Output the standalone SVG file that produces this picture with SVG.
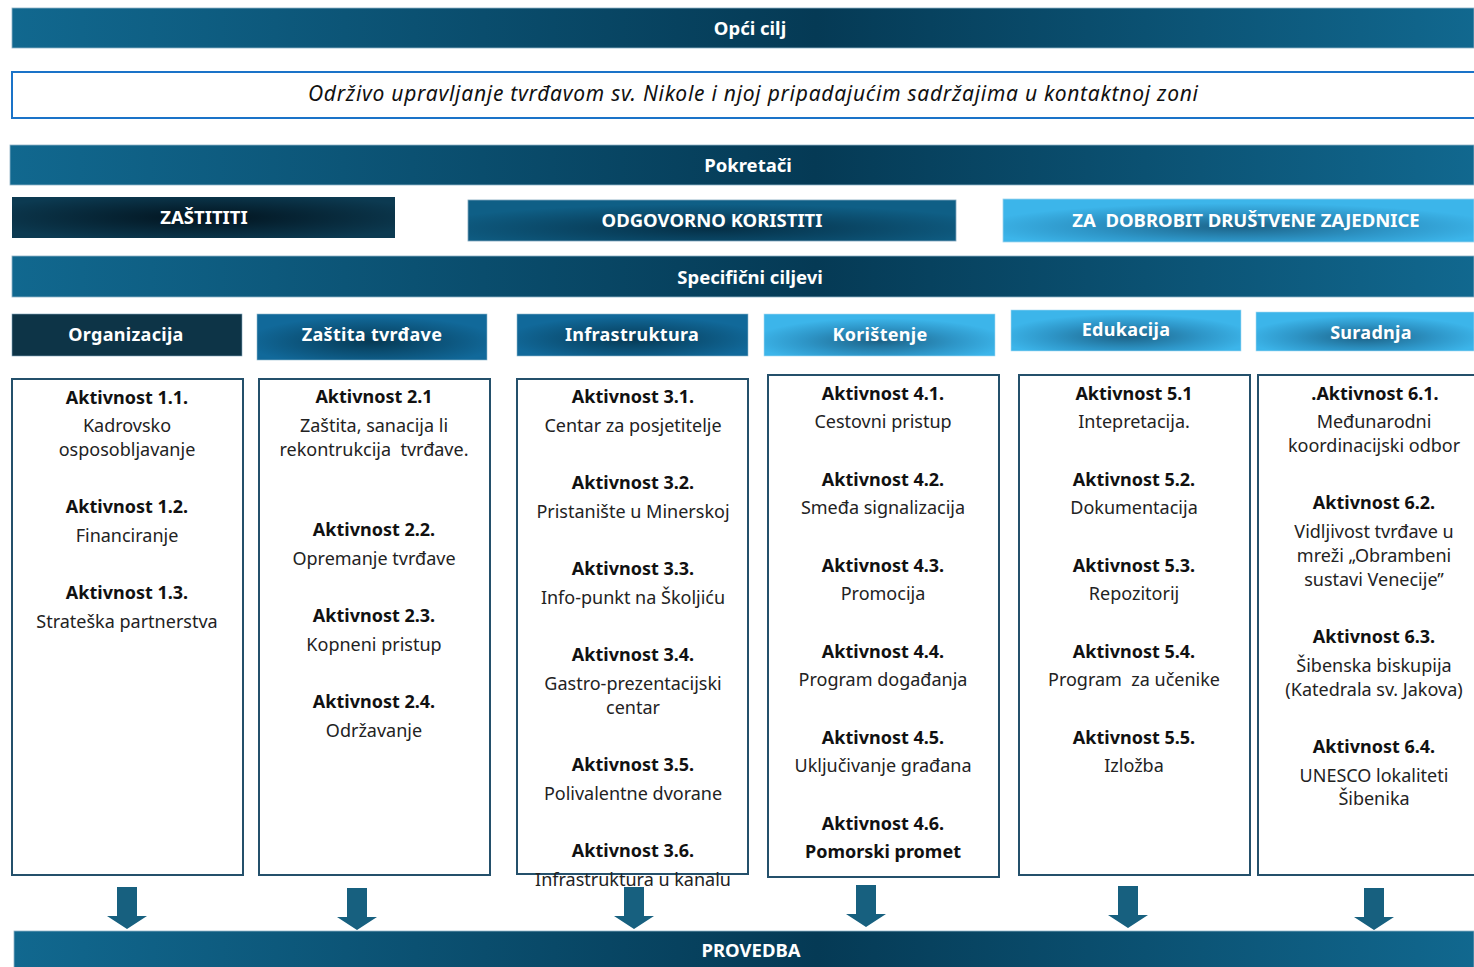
<svg xmlns="http://www.w3.org/2000/svg" width="1474" height="967" viewBox="0 0 1474 967">
<defs>
<linearGradient id="bar" x1="0" y1="0" x2="1" y2="0">
<stop offset="0" stop-color="#11688f"/>
<stop offset="0.55" stop-color="#053a55"/>
<stop offset="1" stop-color="#11688f"/>
</linearGradient>
<radialGradient id="darkBox" cx="0.5" cy="0.5" r="0.6">
<stop offset="0" stop-color="#02141f"/>
<stop offset="1" stop-color="#0c3a51"/>
</radialGradient>
<radialGradient id="midBox" cx="0.5" cy="0.7" r="0.6">
<stop offset="0" stop-color="#052f46"/>
<stop offset="1" stop-color="#0f5f86"/>
</radialGradient>
<radialGradient id="blueBox" cx="0.5" cy="0.6" r="0.55">
<stop offset="0" stop-color="#063a55"/>
<stop offset="1" stop-color="#11699a"/>
</radialGradient>
<radialGradient id="lightBox" cx="0.5" cy="0.65" r="0.55">
<stop offset="0" stop-color="#1c6388"/>
<stop offset="0.6" stop-color="#2e96c8"/>
<stop offset="1" stop-color="#3cb5ea"/>
</radialGradient>
<polygon id="arrow" points="-10,0 10,0 10,29 20,29 0,42 -20,29 -10,29" fill="#17607f"/>
</defs>
<style>
.bar{fill:url(#bar);stroke:#8fb3c7;stroke-width:0.8}
.bt{font-family:"Noto Sans","Liberation Sans",sans-serif;font-weight:bold;fill:#ffffff;font-size:18.5px;text-anchor:middle;dominant-baseline:central}
.ht{font-family:"Noto Sans","Liberation Sans",sans-serif;font-weight:bold;fill:#ffffff;font-size:18px;text-anchor:middle;dominant-baseline:central;letter-spacing:0.3px}
.box{fill:#ffffff;stroke:#24506b;stroke-width:2}
.a{font-family:"Noto Sans","Liberation Sans",sans-serif;font-weight:bold;fill:#111111;font-size:18px;text-anchor:middle}
.d{font-family:"Noto Sans","Liberation Sans",sans-serif;fill:#222222;font-size:18px;text-anchor:middle}
</style>

<g id="opci-cilj">
<rect class="bar" x="12" y="8" width="1462" height="40"/>
<text class="bt" x="750" y="27">Opći cilj</text>
</g>
<g id="goal">
<rect x="12" y="72" width="1470" height="46" fill="#ffffff" stroke="#1a73c8" stroke-width="2"/>
<text x="753" y="101" font-family="Noto Sans, Liberation Sans, sans-serif" font-style="italic" font-size="21" fill="#111111" text-anchor="middle" textLength="890" lengthAdjust="spacing">Održivo upravljanje tvrđavom sv. Nikole i njoj pripadajućim sadržajima u kontaktnoj zoni</text>
</g>
<g id="pokretaci">
<rect class="bar" x="10" y="145" width="1464" height="40"/>
<text class="bt" x="748" y="164">Pokretači</text>
</g>
<g id="zastititi">
<rect x="12" y="197" width="383" height="41" fill="url(#darkBox)"/>
<text class="bt" x="204" y="216">ZAŠTITITI</text>
</g>
<g id="odgovorno">
<rect x="468" y="200" width="488" height="41" fill="url(#midBox)" stroke="#7fa6bd" stroke-width="0.8"/>
<text class="bt" x="712" y="219">ODGOVORNO KORISTITI</text>
</g>
<g id="dobrobit">
<rect x="1003" y="199" width="471" height="43" fill="url(#lightBox)" stroke="#9fd4ee" stroke-width="0.8"/>
<text class="bt" x="1246" y="219" xml:space="preserve">ZA  DOBROBIT DRUŠTVENE ZAJEDNICE</text>
</g>
<g id="specificni">
<rect class="bar" x="12" y="256" width="1462" height="41"/>
<text class="bt" x="750" y="276">Specifični ciljevi</text>
</g>

<g id="h-organizacija">
<rect x="12" y="314" width="230" height="42" fill="#0d3447" stroke="#7fa6bd" stroke-width="0.6"/>
<text class="ht" x="126" y="334">Organizacija</text>
</g>
<g id="h-zastita">
<rect x="257" y="314" width="230" height="46" fill="url(#blueBox)" stroke="#8fb8cc" stroke-width="0.6"/>
<text class="ht" x="372" y="334">Zaštita  tvrđave</text>
</g>
<g id="h-infrastruktura">
<rect x="517" y="314" width="231" height="42" fill="url(#blueBox)" stroke="#8fb8cc" stroke-width="0.6"/>
<text class="ht" x="632" y="334">Infrastruktura</text>
</g>
<g id="h-koristenje">
<rect x="764" y="314" width="231" height="42" fill="url(#lightBox)" stroke="#a9dbf2" stroke-width="0.6"/>
<text class="ht" x="880" y="334">Korištenje</text>
</g>
<g id="h-edukacija">
<rect x="1011" y="310" width="230" height="41" fill="url(#lightBox)" stroke="#a9dbf2" stroke-width="0.6"/>
<text class="ht" x="1126" y="329">Edukacija</text>
</g>
<g id="h-suradnja">
<rect x="1256" y="312" width="218" height="39" fill="url(#lightBox)" stroke="#a9dbf2" stroke-width="0.6"/>
<text class="ht" x="1371" y="332">Suradnja</text>
</g>

<g id="col1">
<rect class="box" x="12" y="379" width="231" height="496"/>
<text class="a" x="127" y="404">Aktivnost 1.1.</text>
<text class="d" x="127" y="432">Kadrovsko</text>
<text class="d" x="127" y="456">osposobljavanje</text>
<text class="a" x="127" y="513">Aktivnost 1.2.</text>
<text class="d" x="127" y="542">Financiranje</text>
<text class="a" x="127" y="599">Aktivnost 1.3.</text>
<text class="d" x="127" y="628">Strateška partnerstva</text>
</g>
<g id="col2">
<rect class="box" x="259" y="379" width="231" height="496"/>
<text class="a" x="374" y="403">Aktivnost 2.1</text>
<text class="d" x="374" y="432">Zaštita, sanacija li</text>
<text class="d" x="374" y="456" xml:space="preserve">rekontrukcija  tvrđave.</text>
<text class="a" x="374" y="536">Aktivnost 2.2.</text>
<text class="d" x="374" y="565">Opremanje tvrđave</text>
<text class="a" x="374" y="622">Aktivnost 2.3.</text>
<text class="d" x="374" y="651">Kopneni pristup</text>
<text class="a" x="374" y="708">Aktivnost 2.4.</text>
<text class="d" x="374" y="737">Održavanje</text>
</g>
<g id="col3">
<rect class="box" x="517" y="379" width="231" height="495"/>
<text class="a" x="633" y="403">Aktivnost 3.1.</text>
<text class="d" x="633" y="432">Centar za posjetitelje</text>
<text class="a" x="633" y="489">Aktivnost 3.2.</text>
<text class="d" x="633" y="518">Pristanište u Minerskoj</text>
<text class="a" x="633" y="575">Aktivnost 3.3.</text>
<text class="d" x="633" y="604">Info-punkt na Školjiću</text>
<text class="a" x="633" y="661">Aktivnost 3.4.</text>
<text class="d" x="633" y="690">Gastro-prezentacijski</text>
<text class="d" x="633" y="714">centar</text>
<text class="a" x="633" y="771">Aktivnost 3.5.</text>
<text class="d" x="633" y="800">Polivalentne dvorane</text>
<text class="a" x="633" y="857">Aktivnost 3.6.</text>
<text class="d" x="633" y="886">Infrastruktura u kanalu</text>
</g>
<g id="col4">
<rect class="box" x="768" y="375" width="231" height="502"/>
<text class="a" x="883" y="400">Aktivnost 4.1.</text>
<text class="d" x="883" y="428">Cestovni pristup</text>
<text class="a" x="883" y="486">Aktivnost 4.2.</text>
<text class="d" x="883" y="514">Smeđa signalizacija</text>
<text class="a" x="883" y="572">Aktivnost 4.3.</text>
<text class="d" x="883" y="600">Promocija</text>
<text class="a" x="883" y="658">Aktivnost 4.4.</text>
<text class="d" x="883" y="686">Program događanja</text>
<text class="a" x="883" y="744">Aktivnost 4.5.</text>
<text class="d" x="883" y="772">Uključivanje građana</text>
<text class="a" x="883" y="830">Aktivnost 4.6.</text>
<text class="a" x="883" y="858">Pomorski promet</text>
</g>
<g id="col5">
<rect class="box" x="1019" y="375" width="231" height="500"/>
<text class="a" x="1134" y="400">Aktivnost 5.1</text>
<text class="d" x="1134" y="428">Intepretacija.</text>
<text class="a" x="1134" y="486">Aktivnost 5.2.</text>
<text class="d" x="1134" y="514">Dokumentacija</text>
<text class="a" x="1134" y="572">Aktivnost 5.3.</text>
<text class="d" x="1134" y="600">Repozitorij</text>
<text class="a" x="1134" y="658">Aktivnost 5.4.</text>
<text class="d" x="1134" y="686" xml:space="preserve">Program  za učenike</text>
<text class="a" x="1134" y="744">Aktivnost 5.5.</text>
<text class="d" x="1134" y="772">Izložba</text>
</g>
<g id="col6">
<rect class="box" x="1258" y="375" width="230" height="500"/>
<text class="a" x="1375" y="400">.Aktivnost 6.1.</text>
<text class="d" x="1374" y="428">Međunarodni</text>
<text class="d" x="1374" y="452">koordinacijski odbor</text>
<text class="a" x="1374" y="509">Aktivnost 6.2.</text>
<text class="d" x="1374" y="538">Vidljivost tvrđave u</text>
<text class="d" x="1374" y="562">mreži „Obrambeni</text>
<text class="d" x="1374" y="586">sustavi Venecije”</text>
<text class="a" x="1374" y="643">Aktivnost 6.3.</text>
<text class="d" x="1374" y="672">Šibenska biskupija</text>
<text class="d" x="1374" y="696">(Katedrala sv. Jakova)</text>
<text class="a" x="1374" y="753">Aktivnost 6.4.</text>
<text class="d" x="1374" y="782">UNESCO lokaliteti</text>
<text class="d" x="1374" y="805">Šibenika</text>
</g>

<g id="connectors">
<use href="#arrow" x="127" y="887"/>
<use href="#arrow" x="357" y="888"/>
<use href="#arrow" x="634" y="887"/>
<use href="#arrow" x="866" y="885"/>
<use href="#arrow" x="1128" y="886"/>
<use href="#arrow" x="1374" y="888"/>
</g>

<g id="provedba">
<rect class="bar" x="14" y="931" width="1460" height="40"/>
<text class="bt" x="751" y="949">PROVEDBA</text>
</g>
</svg>
